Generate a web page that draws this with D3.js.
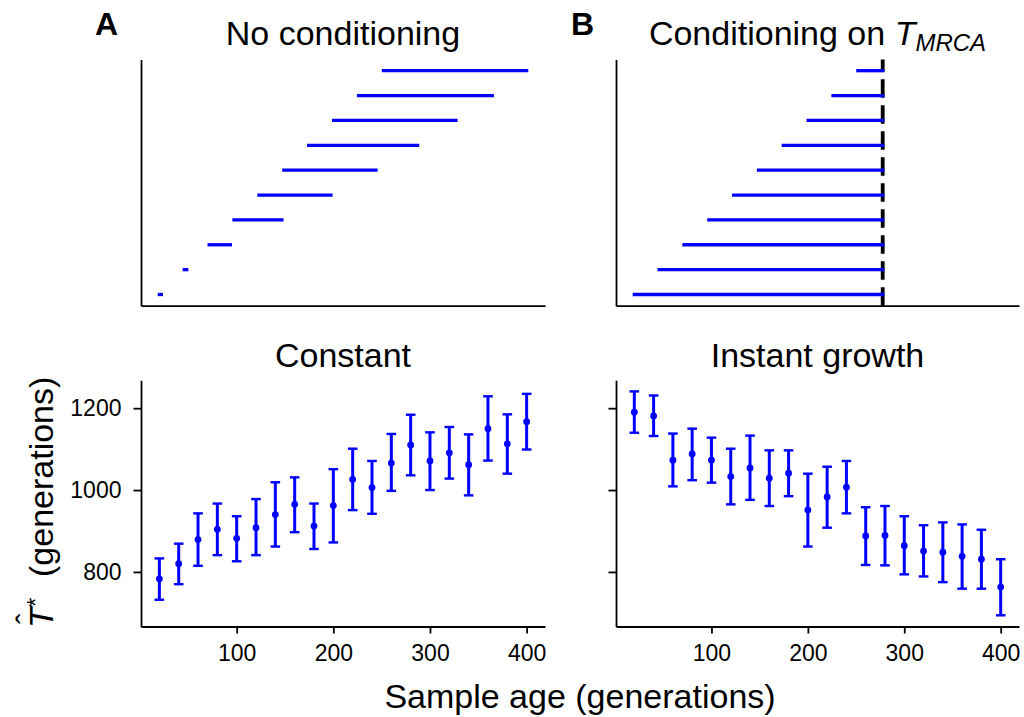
<!DOCTYPE html>
<html>
<head>
<meta charset="utf-8">
<script src="https://cdn.jsdelivr.net/npm/d3@7"></script>
<style>
  html, body { margin: 0; padding: 0; background: #fff; }
  svg { display: block; }
  text { font-family: "Liberation Sans", Arial, Helvetica, sans-serif; fill: #000; }
</style>
</head>
<body>
<svg id="chart" width="1024" height="717"></svg>
<script>
// ---------------- DATA ----------------
// Top panels: sampled lineages (rows), start and end of each interval
const topRows = [0, 1, 2, 3, 4, 5, 6, 7, 8, 9];
const noCondStart = [0, 1, 2, 3, 4, 5, 6, 7, 8, 9];
const noCondEnd = [0.08, 1.10, 2.85, 4.92, 6.89, 8.70, 10.37, 11.91, 13.37, 14.75];
const condStart = [0, 1, 2, 3, 4, 5, 6, 7, 8, 9];
const tmrca = 10;

// Bottom panels: estimates vs sample age
const sampleAges = [20, 40, 60, 80, 100, 120, 140, 160, 180, 200, 220, 240, 260, 280, 300, 320, 340, 360, 380, 400];
const constMean = [783, 820, 879, 904, 882, 908, 940, 965, 912, 962, 1026, 1006, 1066, 1110, 1071, 1091, 1062, 1150, 1113, 1167];
const constLow  = [732, 770, 815, 841, 826, 841, 862, 897, 856, 872, 951, 942, 998, 1036, 1000, 1028, 987, 1072, 1040, 1099];
const constHigh = [833, 869, 943, 967, 936, 978, 1019, 1031, 967, 1051, 1101, 1071, 1137, 1184, 1141, 1154, 1136, 1229, 1185, 1235];
const growthMean = [1190, 1181, 1073, 1088, 1073, 1033, 1054, 1029, 1041, 951, 983, 1007, 888, 889, 864, 851, 848, 838, 831, 763];
const growthLow  = [1140, 1132, 1009, 1024, 1018, 965, 976, 961, 985, 862, 908, 943, 817, 816, 794, 789, 775, 759, 759, 694];
const growthHigh = [1241, 1231, 1138, 1150, 1128, 1101, 1133, 1097, 1097, 1040, 1057, 1071, 958, 961, 936, 914, 921, 916, 903, 831];

const xTicks = [100, 200, 300, 400];
const yTicks = [800, 1000, 1200];

// ---------------- LAYOUT ----------------
const svg = d3.select("#chart");
const BLUE = "#0000ff";
const cols = [[141, 545], [616, 1019]];
const topY = [305.7, 59.5];
const botY = [626.5, 380.2];
const SPINE = 1.8;

function pad(ext, f) { const s = ext[1] - ext[0]; return [ext[0] - f * s, ext[1] + f * s]; }

// shared scales
const topXDomain = pad([d3.min(noCondStart.concat(condStart)), d3.max(noCondEnd.concat([tmrca]))], 0.05);
const topYDomain = pad(d3.extent(topRows), 0.05);
const botXDomain = pad(d3.extent(sampleAges), 0.05);
const botYDomain = pad([d3.min(constLow.concat(growthLow)), d3.max(constHigh.concat(growthHigh))], 0.05);

function styleAxis(g) {
  g.selectAll("path.domain").attr("stroke", "#000").attr("stroke-width", SPINE);
  g.selectAll(".tick line").attr("stroke", "#000").attr("stroke-width", SPINE);
  g.selectAll(".tick text").attr("font-size", 23).attr("font-family", "Liberation Sans, Arial, sans-serif").attr("fill", "#000");
}

// ---------------- TOP PANELS ----------------
const topPanels = [
  { col: 0, starts: noCondStart, ends: noCondEnd, cond: false },
  { col: 1, starts: condStart, ends: condStart.map(() => tmrca), cond: true }
];

topPanels.forEach(p => {
  const x = d3.scaleLinear().domain(topXDomain).range(cols[p.col]);
  const y = d3.scaleLinear().domain(topYDomain).range(topY);
  const g = svg.append("g");

  if (p.cond) {
    g.append("line")
      .attr("x1", x(tmrca)).attr("x2", x(tmrca))
      .attr("y1", topY[0]).attr("y2", topY[1])
      .attr("stroke", "#000").attr("stroke-width", 3.8)
      .attr("stroke-dasharray", "18.5 7.5");
  }

  g.selectAll("line.seg").data(topRows).join("line")
    .attr("class", "seg")
    .attr("x1", i => x(p.starts[i])).attr("x2", i => x(p.ends[i]))
    .attr("y1", i => y(i)).attr("y2", i => y(i))
    .attr("stroke", BLUE).attr("stroke-width", 3.3)
    .attr("stroke-linecap", "square");

  const ax = g.append("g").attr("transform", `translate(0,${topY[0]})`)
    .call(d3.axisBottom(x).tickValues([]).tickSizeOuter(0));
  styleAxis(ax);
  const ay = g.append("g").attr("transform", `translate(${cols[p.col][0]},0)`)
    .call(d3.axisLeft(y).tickValues([]).tickSizeOuter(0));
  styleAxis(ay);
});

// Top titles
svg.append("text").attr("x", (cols[0][0] + cols[0][1]) / 2).attr("y", 45)
  .attr("text-anchor", "middle").attr("font-size", 34).text("No conditioning");
const t2 = svg.append("text").attr("x", (cols[1][0] + cols[1][1]) / 2).attr("y", 45)
  .attr("text-anchor", "middle").attr("font-size", 34);
t2.append("tspan").text("Conditioning on ");
t2.append("tspan").attr("font-style", "italic").text("T");
t2.append("tspan").attr("font-style", "italic").attr("font-size", 24).attr("dy", 6).text("MRCA");

// Panel letters
svg.append("text").attr("x", 95).attr("y", 35).attr("font-size", 32).attr("font-weight", "bold").text("A");
svg.append("text").attr("x", 571).attr("y", 35).attr("font-size", 32).attr("font-weight", "bold").text("B");

// ---------------- BOTTOM PANELS ----------------
const botPanels = [
  { col: 0, title: "Constant", mean: constMean, low: constLow, high: constHigh, labels: true },
  { col: 1, title: "Instant growth", mean: growthMean, low: growthLow, high: growthHigh, labels: false }
];

botPanels.forEach(p => {
  const x = d3.scaleLinear().domain(botXDomain).range(cols[p.col]);
  const y = d3.scaleLinear().domain(botYDomain).range(botY);
  const g = svg.append("g");
  const idx = d3.range(sampleAges.length);

  g.selectAll("line.err").data(idx).join("line")
    .attr("class", "err")
    .attr("x1", i => x(sampleAges[i])).attr("x2", i => x(sampleAges[i]))
    .attr("y1", i => y(p.low[i])).attr("y2", i => y(p.high[i]))
    .attr("stroke", BLUE).attr("stroke-width", 3);
  ["low", "high"].forEach(k => {
    g.selectAll("line.cap" + k).data(idx).join("line")
      .attr("class", "cap" + k)
      .attr("x1", i => x(sampleAges[i]) - 4.8).attr("x2", i => x(sampleAges[i]) + 4.8)
      .attr("y1", i => y(p[k][i])).attr("y2", i => y(p[k][i]))
      .attr("stroke", BLUE).attr("stroke-width", 2.4);
  });
  g.selectAll("circle").data(idx).join("circle")
    .attr("cx", i => x(sampleAges[i])).attr("cy", i => y(p.mean[i]))
    .attr("r", 3.4).attr("fill", BLUE);

  const ax = g.append("g").attr("transform", `translate(0,${botY[0]})`)
    .call(d3.axisBottom(x).tickValues(xTicks).tickFormat(d3.format("d"))
      .tickSize(7).tickPadding(11.5).tickSizeOuter(0));
  styleAxis(ax);
  const ayAxis = d3.axisLeft(y).tickValues(yTicks).tickSize(7.5).tickPadding(12).tickSizeOuter(0)
    .tickFormat(p.labels ? d3.format("d") : () => "");
  const ay = g.append("g").attr("transform", `translate(${cols[p.col][0]},0)`).call(ayAxis);
  styleAxis(ay);

  svg.append("text").attr("x", (cols[p.col][0] + cols[p.col][1]) / 2).attr("y", 366.5)
    .attr("text-anchor", "middle").attr("font-size", 34).text(p.title);
});

// X label
svg.append("text").attr("x", 580).attr("y", 708).attr("text-anchor", "middle")
  .attr("font-size", 34).text("Sample age (generations)");

// Y label (rotated)
const yl = svg.append("text").attr("transform", "translate(53,628) rotate(-90)").attr("font-size", 34);
yl.append("tspan").attr("x", 0).attr("y", 0).attr("font-style", "italic").text("T");
yl.append("tspan").attr("x", 4).attr("y", -14).attr("font-size", 32).text("\u02C6");
yl.append("tspan").attr("x", 21).attr("y", -9).attr("font-size", 24).text("*");
yl.append("tspan").attr("x", 51).attr("y", 0).text("(generations)");
</script>
</body>
</html>
